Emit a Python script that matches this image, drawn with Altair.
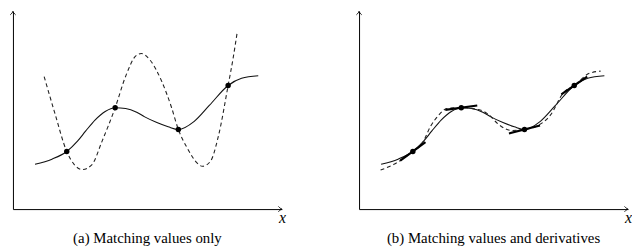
import altair as alt
import pandas as pd
import numpy as np

# ---- data (abstract units) ----
# interpolation nodes shared by both panels
node_x = [2.0, 3.8, 6.15, 8.0]
node_y = [2.33, 4.1, 3.22, 5.0]
node_slope = [0.8, 0.15, 0.28, 0.75]

# underlying smooth function (solid curve, same in both panels)
solid_x = [0.82, 1.45, 2.0, 2.4, 2.7, 3.05, 3.43, 3.8, 4.19, 4.6, 4.9, 5.35, 5.77, 6.15, 6.74, 7.3, 8.0, 8.5, 9.12]
solid_y = [1.81, 2.02, 2.33, 2.75, 3.15, 3.6, 3.95, 4.1, 4.07, 3.92, 3.73, 3.5, 3.33, 3.22, 3.55, 4.19, 5.0, 5.29, 5.39]

# (a) interpolation matching values only (dashed)
dash_a_x = [1.16, 1.56, 2.0, 2.28, 2.58, 2.94, 3.30, 3.8, 4.21, 4.57, 4.77, 5.11, 5.53, 5.89, 6.15, 6.49, 6.85, 7.04, 7.34, 7.64, 8.0, 8.18, 8.34]
dash_a_y = [5.36, 3.87, 2.33, 1.80, 1.60, 1.80, 2.71, 4.1, 5.43, 6.20, 6.29, 6.01, 5.17, 4.13, 3.22, 2.45, 1.86, 1.73, 1.93, 2.96, 5.0, 6.07, 7.17]

# (b) interpolation matching values and derivatives (dashed)
dash_b_x = [0.80, 1.28, 2.0, 2.35, 2.66, 2.97, 3.27, 3.8, 4.53, 4.83, 5.19, 5.68, 6.15, 6.6, 7.12, 7.60, 8.0, 8.56, 8.98]
dash_b_y = [1.58, 1.80, 2.33, 2.66, 3.35, 3.81, 4.07, 4.1, 4.0, 3.81, 3.42, 3.18, 3.22, 3.35, 3.81, 4.71, 5.0, 5.49, 5.58]

captions = ["(a) Matching values only", "(b) Matching values and derivatives"]
axis_label = "x"

X_MAX = 10.0
Y_MAX = 8.0
W, H = 272, 200
SPACING = 78
SERIF = "Liberation Serif, DejaVu Serif, serif"

ARROW_RIGHT = "M-1,-0.75 C-0.6,-0.3 -0.25,-0.06 0,0 C-0.25,0.06 -0.6,0.3 -1,0.75"
ARROW_UP = "M-0.75,1 C-0.3,0.6 -0.06,0.25 0,0 C0.06,0.25 0.3,0.6 0.75,1"

xs = alt.Scale(domain=[0, X_MAX], nice=False, zero=False)
ys = alt.Scale(domain=[0, Y_MAX], nice=False, zero=False)
x_axis = alt.Axis(domain=True, domainColor="black", domainWidth=1, ticks=False, labels=False,
                  grid=False, title=axis_label, titleFont=SERIF, titleFontStyle="italic",
                  titleFontWeight="normal", titleFontSize=16, titleColor="black",
                  titleX=W, titleY=14, titleAlign="center", titleBaseline="alphabetic", titleAngle=0)
y_axis = alt.Axis(domain=True, domainColor="black", domainWidth=1, ticks=False, labels=False,
                  grid=False, title=None)


def enc_xy():
    return dict(
        x=alt.X("x:Q", scale=xs, axis=x_axis),
        y=alt.Y("y:Q", scale=ys, axis=y_axis),
    )


def panel(dx, dy, caption, with_tangents):
    solid = pd.DataFrame({"x": solid_x, "y": solid_y, "o": range(len(solid_x))})
    dashed = pd.DataFrame({"x": dx, "y": dy, "o": range(len(dx))})
    nodes = pd.DataFrame({"x": node_x, "y": node_y})
    arrows_r = pd.DataFrame({"x": [X_MAX], "y": [0.0]})
    arrows_u = pd.DataFrame({"x": [0.0], "y": [Y_MAX]})

    layers = [
        alt.Chart(solid).mark_line(color="#111", strokeWidth=1.1, interpolate="monotone")
        .encode(order="o:Q", **enc_xy()),
        alt.Chart(dashed).mark_line(color="#222", strokeWidth=1.1, strokeDash=[4, 3],
                                    interpolate="monotone")
        .encode(order="o:Q", **enc_xy()),
    ]
    if with_tangents:
        m = np.array(node_slope)
        h = 0.6 / np.sqrt(1 + m ** 2)
        tan = pd.DataFrame({
            "x": np.array(node_x) - h, "y": np.array(node_y) - m * h,
            "x2": np.array(node_x) + h, "y2": np.array(node_y) + m * h,
        })
        layers.append(
            alt.Chart(tan).mark_rule(color="black", strokeWidth=2.2)
            .encode(x2="x2:Q", y2="y2:Q", **enc_xy())
        )
    layers += [
        alt.Chart(nodes).mark_circle(color="black", size=30, opacity=1).encode(**enc_xy()),
        alt.Chart(arrows_r).mark_point(shape=ARROW_RIGHT, filled=False, stroke="black",
                                       strokeWidth=1, size=49, opacity=1).encode(**enc_xy()),
        alt.Chart(arrows_u).mark_point(shape=ARROW_UP, filled=False, stroke="black",
                                       strokeWidth=1, size=49, opacity=1).encode(**enc_xy()),
    ]
    return alt.layer(*layers).properties(
        width=W, height=H,
        title=alt.TitleParams(text=caption, orient="bottom", anchor="middle", font=SERIF,
                              fontSize=15, fontWeight="normal", color="black", offset=5),
    )


pa = panel(dash_a_x, dash_a_y, captions[0], False)
pb = panel(dash_b_x, dash_b_y, captions[1], True)

chart = alt.hconcat(pa, pb, spacing=SPACING, bounds="flush").configure_view(
    stroke=None
).properties(padding={"left": 0, "top": 0, "right": 0, "bottom": 0})

chart.save("out.html", embed_options={"renderer": "svg", "actions": False})
